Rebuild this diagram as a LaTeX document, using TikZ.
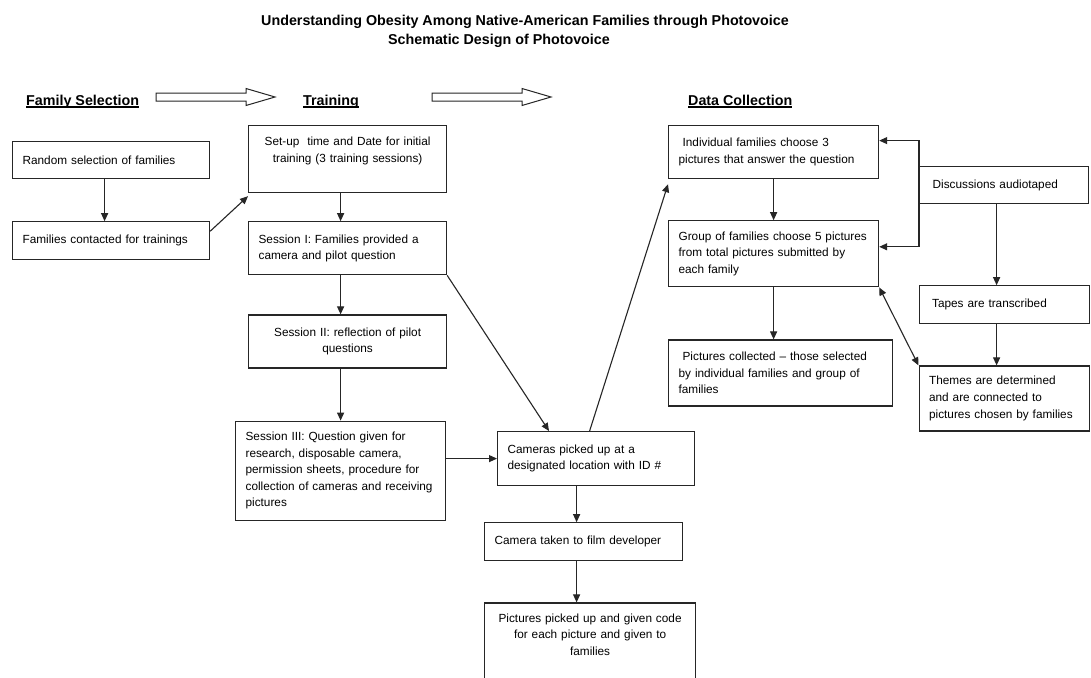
\documentclass[tikz,border=0pt]{standalone}
\usepackage{fontspec}
\setmainfont{Liberation Sans}
\usetikzlibrary{arrows.meta, positioning}
\newcommand{\boxfont}{\fontsize{11.8}{16.6}\selectfont}
\newcommand{\headfont}{\fontsize{14.3}{19}\selectfont\bfseries}
\newcommand{\headline}[1]{\setbox0\hbox{#1}\rlap{\rule[-2pt]{\wd0}{1.1pt}}\box0}
\tikzset{
  box/.style={draw=black!85, line width=1.2pt, inner xsep=10pt, inner ysep=0pt,
              text width=#1pt-20pt, font=\boxfont, align=left},
  arrow/.style={-{Triangle[length=8pt, width=7pt]}, line width=1.1pt, draw=black!85},
  darrow/.style={{Triangle[length=8pt, width=7pt]}-{Triangle[length=8pt, width=7pt]},
                 line width=1.1pt, draw=black!85},
  header/.style={font=\headfont, anchor=base west, inner sep=0pt},
  titletext/.style={font=\headfont, anchor=base, inner sep=0pt},
  hollow/.style={draw=black!85, line width=1pt, fill=white},
}
\begin{document}
\begin{tikzpicture}[x=1pt, y=1pt]

  \fill[white] (0,0) rectangle (1091,-677);
  \clip (0,0) rectangle (1091,-677);
  \useasboundingbox (0,0) rectangle (1091,-677);

  \node[titletext] (title) at (525,-26)
    {Understanding Obesity Among Native-American Families through Photovoice};
  \node[titletext] (subtitle) at (499,-45) {Schematic Design of Photovoice};

  \node[header] (famsel) at (26,-105.5) {\headline{Family Selection}};
  \node[header] (training) at (303,-105.5) {\headline{Training}};
  \node[header] (datacol) at (688,-105.5) {\headline{Data Collection}};

  \foreach \x in {156,432}
    \draw[hollow] (\x,-93) -- ++(90,0) -- ++(0,4.5) -- ++(29,-8.5)
      -- ++(-29,-8.5) -- ++(0,4.5) -- ++(-90,0) -- cycle;

  % Family selection
  \node[box=197, minimum height=37pt, anchor=north west] (random) at (12,-141)
    {Random selection of families};
  \node[box=197, minimum height=38pt, below=42pt of random]
    (contacted) {Families contacted for trainings};

  % Training
  \node[box=198, align=center, text height=20pt, text depth=47pt,
        anchor=north west] (setup) at (248,-125)
    {Set-up\ \ time and Date for initial\\training (3 training sessions)};
  \node[box=198, minimum height=53pt, below=28pt of setup]
    (sess1) {Session I: Families provided a\\camera and pilot question};
  \node[box=198, align=center, minimum height=53pt, below=39pt of sess1]
    (sess2) {Session II: reflection of pilot\\questions};
  \node[box=210, minimum height=99pt, below=52pt of sess2, xshift=-7pt]
    (sess3) {Session III: Question given for\\research, disposable camera,\\
             permission sheets, procedure for\\collection of cameras and receiving\\
             pictures};

  % Cameras
  \node[box=197, minimum height=54pt, anchor=north west] (cameras) at (497,-431)
    {Cameras picked up at a\\designated location with ID \#};
  \node[box=198, minimum height=38pt, below=36pt of cameras, xshift=-12.5pt]
    (taken) {Camera taken to film developer};
  \node[box=211, align=center, text height=19pt, text depth=81pt,
        below=41pt of taken, xshift=6.5pt]
    (picked) {Pictures picked up and given code\\for each picture and given to\\families};

  % Data collection
  \node[box=210, minimum height=53pt, anchor=north west] (indiv) at (668,-125)
    {\hspace*{4pt}Individual families choose 3\\pictures that answer the question};
  \node[box=210, minimum height=66pt, below=41pt of indiv]
    (group) {Group of families choose 5 pictures\\from total pictures submitted by\\each family};
  \node[box=224, minimum height=66pt, below=52pt of group, xshift=7pt]
    (collected) {\hspace*{4pt}Pictures collected -- those selected\\
                 by individual families and group of\\families};

  \node[box=169, minimum height=37pt, anchor=north west] (disc) at (919,-166)
    {\hspace*{3pt}Discussions audiotaped};
  \node[box=170, minimum height=38pt, below=81pt of disc]
    (tapes) {\hspace*{3pt}Tapes are transcribed};
  \node[box=170, minimum height=65pt, below=41pt of tapes]
    (themes) {Themes are determined\\and are connected to\\pictures chosen by families};

  \draw[arrow] ([xshift=-6.5pt]random.south) -- ([xshift=-6.5pt]contacted.north);
  \draw[arrow] ([yshift=-10pt]contacted.north east) -- ([yshift=-3pt]setup.south west);
  \draw[arrow] ([xshift=-7pt]setup.south) -- ([xshift=-7pt]sess1.north);
  \draw[arrow] ([xshift=-7pt]sess1.south) -- ([xshift=-7pt]sess2.north);
  \draw[arrow] ([xshift=-7pt]sess2.south) -- (sess3.north);
  \draw[arrow] (sess1.south east) -- ([xshift=52pt]cameras.north west);
  \draw[arrow] (sess3.east |- cameras.west) -- (cameras.west);
  \draw[arrow] ([xshift=-6.5pt]cameras.north) -- ([yshift=-5pt]indiv.south west);
  \draw[arrow] ([xshift=-19.5pt]cameras.south) -- ([xshift=-7pt]taken.north);
  \draw[arrow] ([xshift=-7pt]taken.south) -- ([xshift=-13.5pt]picked.north);
  \draw[arrow] (indiv.south) -- (group.north);
  \draw[arrow] (group.south) -- ([xshift=-7pt]collected.north);
  \draw[arrow] (disc.west) |- ([yshift=11.5pt]indiv.east);
  \draw[arrow] (disc.west) |- ([yshift=7pt]group.east);
  \draw[arrow] ([xshift=-7.5pt]disc.south) -- ([xshift=-7.5pt]tapes.north);
  \draw[arrow] ([xshift=-7.5pt]tapes.south) -- ([xshift=-7.5pt]themes.north);
  \draw[darrow] (group.south east) -- (themes.north west);

\end{tikzpicture}
\end{document}
